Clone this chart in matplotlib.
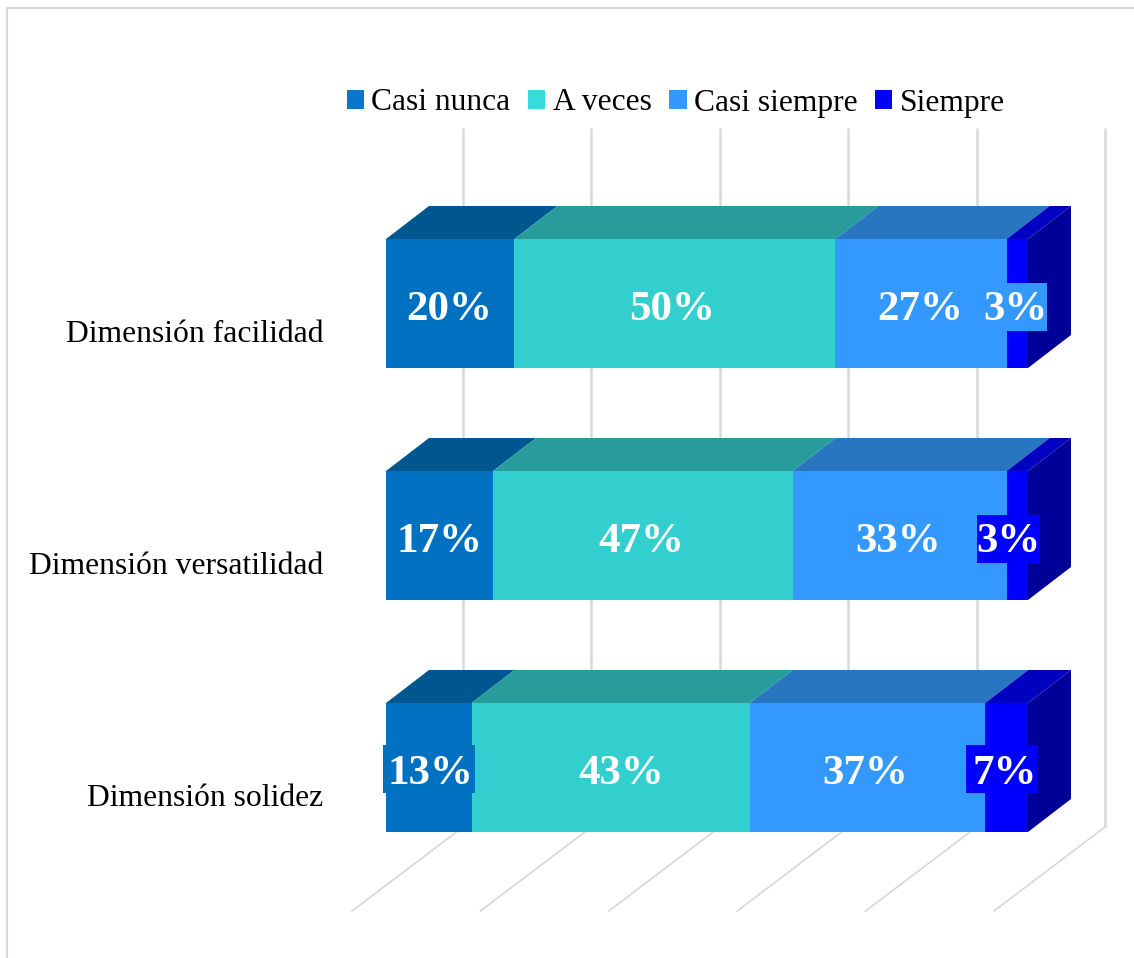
import matplotlib
matplotlib.use("Agg")
import matplotlib.pyplot as plt
import numpy as np
from matplotlib.lines import Line2D
from matplotlib.patches import Patch, Polygon, Rectangle

categories = ["Dimensión solidez", "Dimensión versatilidad", "Dimensión facilidad"]
series = ["Casi nunca", "A veces", "Casi siempre", "Siempre"]
casi_nunca = [13.33, 16.67, 20.0]
a_veces = [43.33, 46.67, 50.0]
casi_siempre = [36.67, 33.33, 26.67]
siempre = [6.67, 3.33, 3.33]
ticks = [0, 20, 40, 60, 80, 100]

front_colors = ["#0070C0", "#33CFCF", "#3399FF", "#0000FF"]
top_colors = ["#00568F", "#2A9B9B", "#2776BF", "#0000C0"]
side_color = "#000099"
legend_colors = ["#0A77CC", "#36DBDB", "#3399FF", "#0000FF"]
grid_color = "#D9D9D9"

W, H = 1134, 958
plt.rcParams["font.family"] = ["Liberation Serif", "DejaVu Serif"]

fig = plt.figure(figsize=(W / 100, H / 100), dpi=100)

# axes spans the full height, x runs over the front face of the bars
ax = fig.add_axes([386 / W, 0, 642 / W, 1])
row_px = 232
ax.set_xlim(0, 100)
ax.set_ylim((767.5 - H) / row_px, 767.5 / row_px)
ax.axis("off")

# pixel sizes in data units
px = 100 / 642
py = 1 / row_px
bar_height = 129 * py
depth_x = 43 * px
depth_y = 33 * py

# chart frame, only top and left are visible
fig.add_artist(Line2D([7 / W, 7 / W, 1], [0, 1 - 8 / H, 1 - 8 / H], color=grid_color, lw=1.5))

# walls: vertical line at the back, then the floor line coming forward
floor_y = (767.5 - 827) * py
top_y = (767.5 - 128) * py
for t in ticks:
    back = t + 77 * px
    front = t - 34 * px
    ax.plot([back, back], [top_y, floor_y], color=grid_color, lw=1.8, zorder=1, clip_on=False,
            solid_capstyle="butt")
    ax.plot([back, front], [floor_y, floor_y - 84 * py], color=grid_color, lw=1.3, zorder=1, clip_on=False)

values = np.array([casi_nunca, a_veces, casi_siempre, siempre], dtype=float)
starts = np.vstack([np.zeros(3), np.cumsum(values, axis=0)[:-1]])
y_pos = np.arange(len(categories))

for j, name in enumerate(series):
    ax.barh(y_pos, values[j], left=starts[j], height=bar_height, color=front_colors[j], zorder=3)
    for i in y_pos:
        x0 = starts[j][i]
        x1 = x0 + values[j][i]
        up = i + bar_height / 2
        ax.add_patch(Polygon([(x0, up), (x1, up), (x1 + depth_x, up + depth_y), (x0 + depth_x, up + depth_y)],
                             facecolor=top_colors[j], edgecolor="none", zorder=2, clip_on=False))

# right end of each bar
for i in y_pos:
    end = starts[-1][i] + values[-1][i]
    up = i + bar_height / 2
    low = i - bar_height / 2
    ax.add_patch(Polygon([(end, low), (end, up), (end + depth_x, up + depth_y), (end + depth_x, low + depth_y)],
                         facecolor=side_color, edgecolor="none", zorder=2.5, clip_on=False))

# data labels, the last one in the top row has a box in the wrong colour as in the original
nudge_px = {(0, 0): 2, (1, 0): 11, (0, 1): 0, (3, 1): -9, (1, 2): -3, (3, 2): -2,
            (2, 0): -2, (3, 0): -2, (1, 1): -2, (2, 1): -2}
box_colors = {(3, 2): "#3399FF"}
box_px = {(0, 0): (-2, 92), (3, 0): (-3, 72), (3, 1): (0, 63), (3, 2): (0, 63)}
box_drop = [25.5, 27.5, 27.5]
text_drop = [6.5, 6.5, 7.0]
for j in range(len(series)):
    for i in y_pos:
        xc = starts[j][i] + values[j][i] / 2 + nudge_px.get((j, i), -1) * px
        box = box_colors.get((j, i), front_colors[j])
        shift, width = box_px.get((j, i), (0, 92))
        ax.add_patch(Rectangle((xc + (shift - width / 2) * px, i - box_drop[i] * py), width * px, 48 * py,
                               facecolor=box, edgecolor="none", zorder=4, clip_on=False))
        ax.text(xc, i - text_drop[i] * py, f"{values[j][i]:.0f}%", color="white", fontsize=31, fontweight="bold",
                ha="center", va="center", zorder=5)

# category labels
for i, cat in enumerate(categories):
    ax.text(-63 * px, i - 31.5 * py, cat, ha="right", va="center", fontsize=22.75, color="black")

handles = [Patch(facecolor=c, edgecolor="none") for c in legend_colors]
fig.legend(handles, series, loc="center left", bbox_to_anchor=(347 / W, 1 - 103 / H), ncol=4, frameon=False,
           fontsize=22.7, handlelength=0.54, handleheight=0.54, handletextpad=0.23, columnspacing=0.57,
           borderpad=0, borderaxespad=0)

fig.savefig("out.png", dpi=100)
